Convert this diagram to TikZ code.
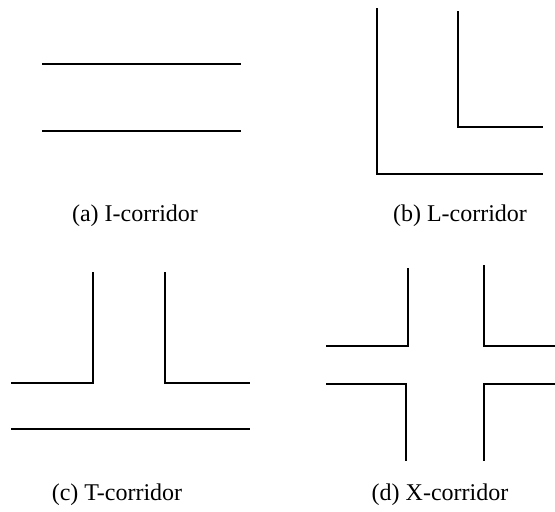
\documentclass[tikz,border=0pt]{standalone}
\usepackage{fontspec}
\setmainfont{Liberation Serif}
\begin{document}
\begin{tikzpicture}[x=1pt,y=-1pt,
  wall/.style={line width=1.8pt,black,line cap=rect,line join=miter},
  caption/.style={font=\fontsize{24}{28}\selectfont,inner sep=0pt}]
\useasboundingbox (0,0) rectangle (555,512);
% (a) I-corridor
\draw[wall] (43,64) -- (240,64);
\draw[wall] (43,131) -- (240,131);
\node[caption] (capa) at (135,216) {(a) I-corridor};
% (b) L-corridor
\draw[wall] (377,9) -- (377,174) -- (542,174);
\draw[wall] (458,12) -- (458,127) -- (542,127);
\node[caption] (capb) at (460,216) {(b) L-corridor};
% (c) T-corridor
\draw[wall] (93,273) -- (93,383) -- (12,383);
\draw[wall] (165,273) -- (165,383) -- (249,383);
\draw[wall] (12,429) -- (249,429);
\node[caption] (capc) at (117,495) {(c) T-corridor};
% (d) X-corridor
\draw[wall] (408,269) -- (408,346) -- (327,346);
\draw[wall] (484,266) -- (484,346) -- (555,346);
\draw[wall] (327,384) -- (406,384) -- (406,460);
\draw[wall] (555,384) -- (484,384) -- (484,460);
\node[caption] (capd) at (440,495) {(d) X-corridor};
\end{tikzpicture}
\end{document}
